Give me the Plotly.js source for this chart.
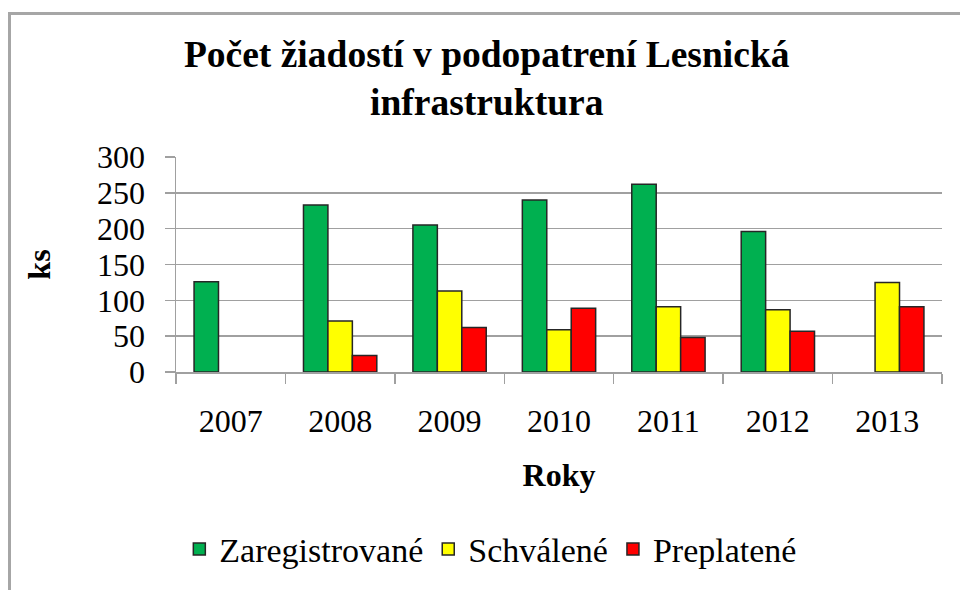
<!DOCTYPE html>
<html>
<head>
<meta charset="utf-8">
<script src="https://cdn.plot.ly/plotly-3.0.1.min.js"></script>
<style>
  html, body { margin: 0; padding: 0; background: #ffffff; }
  #wrap { position: relative; width: 960px; height: 590px; overflow: hidden; }
  #frame { position: absolute; left: 8px; top: 12px; width: 1000px; height: 1000px;
           border-left: 3px solid #a6a6a6; border-top: 3px solid #a6a6a6; pointer-events: none; }
  #chart { position: absolute; left: 0; top: 0; width: 960px; height: 590px; }
</style>
</head>
<body>
<div id="wrap">
  <div id="chart"></div>
  <div id="frame"></div>
</div>
<script>
const years = ['2007', '2008', '2009', '2010', '2011', '2012', '2013'];
const zaregistrovane = [126, 233, 205, 240, 262, 196, null];
const schvalene = [null, 71, 113, 59, 91, 87, 125];
const preplatene = [null, 23, 62, 89, 48, 57, 91];
const yTicks = [0, 50, 100, 150, 200, 250, 300];

const FONT = 'Liberation Serif';
const outline = { color: '#262626', width: 1.5 };

const traces = [
  { type: 'bar', name: 'Zaregistrované', x: years, y: zaregistrovane,
    marker: { color: '#00B050', line: outline } },
  { type: 'bar', name: 'Schválené', x: years, y: schvalene,
    marker: { color: '#FFFF00', line: outline } },
  { type: 'bar', name: 'Preplatené', x: years, y: preplatene,
    marker: { color: '#FF0000', line: outline } }
];

const layout = {
  width: 960, height: 590,
  margin: { l: 176, r: 18, t: 157, b: 216, pad: 0 },
  paper_bgcolor: 'rgba(0,0,0,0)', plot_bgcolor: '#ffffff',
  font: { family: FONT, color: '#000000', size: 32 },
  barmode: 'group', bargap: 0.33, bargroupgap: 0,
  showlegend: true,
  title: {
    text: '<b>Počet žiadostí v podopatrení Lesnická<br>infrastruktura</b>',
    font: { family: FONT, size: 37.5, color: '#000000' },
    x: 0.507, xanchor: 'center', xref: 'container',
    y: 0.887, yanchor: 'middle', yref: 'container'
  },
  xaxis: {
    type: 'category',
    tickson: 'boundaries',
    ticks: 'outside', ticklen: 10, tickwidth: 1.5, tickcolor: '#a0a0a0',
    showline: true, linecolor: '#a0a0a0', linewidth: 1.5,
    showgrid: false, zeroline: false,
    tickfont: { family: FONT, size: 32, color: '#000000' },
    ticklabelstandoff: 20,
    title: { text: '<b>Roky</b>', font: { family: FONT, size: 32, color: '#000000' }, standoff: 25 }
  },
  yaxis: {
    range: [0, 300], tickvals: yTicks, ticktext: yTicks.map(String),
    ticks: 'outside', ticklen: 10, tickwidth: 1.5, tickcolor: '#a0a0a0',
    showline: true, linecolor: '#a0a0a0', linewidth: 1.5,
    showgrid: true, gridcolor: '#a0a0a0', gridwidth: 1.5, zeroline: false,
    tickfont: { family: FONT, size: 32, color: '#000000' },
    ticklabelstandoff: 13,
    title: { text: '<b>ks</b>', font: { family: FONT, size: 32, color: '#000000' }, standoff: 37 }
  },
  legend: {
    orientation: 'h', x: 0.411, xanchor: 'center', y: -0.825, yanchor: 'middle',
    font: { family: FONT, size: 34, color: '#000000' },
    itemwidth: 30, tracegroupgap: 0, bgcolor: 'rgba(0,0,0,0)'
  }
};

Plotly.newPlot('chart', traces, layout, { staticPlot: true, displayModeBar: false });
</script>
</body>
</html>
